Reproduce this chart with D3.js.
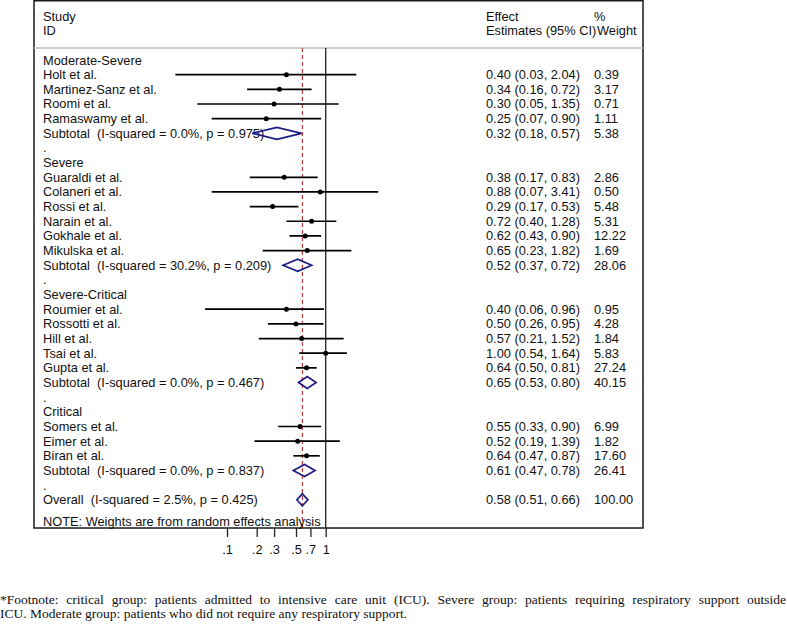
<!DOCTYPE html>
<html>
<head>
<meta charset="utf-8">
<script src="https://cdn.jsdelivr.net/npm/d3@7"></script>
<style>
  body { margin: 0; background: #fff; }
  svg { display: block; }
  .lbl { font-family: "Liberation Sans", Arial, sans-serif; font-size: 12.8px; fill: #111; white-space: pre; }
  .foot { font-family: "Liberation Serif", "Times New Roman", serif; font-size: 13.5px; fill: #111; }
</style>
</head>
<body>
<svg id="chart"></svg>
<script>
// Chart size (matches the browser window)
const width = 787;
const height = 626;

// Subgroups and their pooled results
const groupNames = ["Moderate-Severe", "Severe", "Severe-Critical", "Critical"];
const subI2 = ["0.0%", "30.2%", "0.0%", "0.0%"];
const subP = ["0.975", "0.209", "0.467", "0.837"];
const subEst = [0.32, 0.52, 0.65, 0.61];
const subLo = [0.18, 0.37, 0.53, 0.47];
const subHi = [0.57, 0.72, 0.80, 0.78];
const subWt = [5.38, 28.06, 40.15, 26.41];

// Individual studies
const studyNames = ["Holt et al.", "Martinez-Sanz et al.", "Roomi et al.", "Ramaswamy et al.",
  "Guaraldi et al.", "Colaneri et al.", "Rossi et al.", "Narain et al.", "Gokhale et al.", "Mikulska et al.",
  "Roumier et al.", "Rossotti et al.", "Hill et al.", "Tsai et al.", "Gupta et al.",
  "Somers et al.", "Eimer et al.", "Biran et al."];
const studyGroup = [0, 0, 0, 0, 1, 1, 1, 1, 1, 1, 2, 2, 2, 2, 2, 3, 3, 3];
const studyEst = [0.40, 0.34, 0.30, 0.25, 0.38, 0.88, 0.29, 0.72, 0.62, 0.65, 0.40, 0.50, 0.57, 1.00, 0.64, 0.55, 0.52, 0.64];
const studyLo = [0.03, 0.16, 0.05, 0.07, 0.17, 0.07, 0.17, 0.40, 0.43, 0.23, 0.06, 0.26, 0.21, 0.54, 0.50, 0.33, 0.19, 0.47];
const studyHi = [2.04, 0.72, 1.35, 0.90, 0.83, 3.41, 0.53, 1.28, 0.90, 1.82, 0.96, 0.95, 1.52, 1.64, 0.81, 0.90, 1.39, 0.87];
const studyWt = [0.39, 3.17, 0.71, 1.11, 2.86, 0.50, 5.48, 5.31, 12.22, 1.69, 0.95, 4.28, 1.84, 5.83, 27.24, 6.99, 1.82, 17.60];

// Overall pooled result
const overallI2 = "2.5%";
const overallP = "0.425";
const overallEst = 0.58;
const overallLo = 0.51;
const overallHi = 0.66;
const overallWt = 100.00;

// Axis ticks
const tickValues = [0.1, 0.2, 0.3, 0.5, 0.7, 1];
const tickLabels = [".1", ".2", ".3", ".5", ".7", "1"];

// Build the list of rows in display order
const rows = [];
groupNames.forEach((g, gi) => {
  rows.push({ type: "label", text: g });
  studyNames.forEach((s, si) => {
    if (studyGroup[si] !== gi) return;
    rows.push({ type: "study", text: s, est: studyEst[si], lo: studyLo[si], hi: studyHi[si], wt: studyWt[si] });
  });
  rows.push({ type: "pool", text: `Subtotal  (I-squared = ${subI2[gi]}, p = ${subP[gi]})`,
    est: subEst[gi], lo: subLo[gi], hi: subHi[gi], wt: subWt[gi] });
  rows.push({ type: "label", text: "." });
});
rows.push({ type: "pool", text: `Overall  (I-squared = ${overallI2}, p = ${overallP})`,
  est: overallEst, lo: overallLo, hi: overallHi, wt: overallWt });

// Layout
const boxLeft = 34, boxRight = 643, boxTop = 0.75, boxBottom = 528;
const headerLine = 48;
const textX = 43, effectX = 486, weightX = 594;

const x = d3.scaleLog().domain([0.1, 1]).range([227, 325.7]);
const y = d3.scaleLinear().domain([0, rows.length - 1]).range([60, 499.8]);
const rowStep = y(1) - y(0);

const svg = d3.select("#chart")
  .attr("width", width)
  .attr("height", height);

// Outer frame and header separator
svg.append("rect")
  .attr("x", boxLeft).attr("y", boxTop)
  .attr("width", boxRight - boxLeft).attr("height", boxBottom - boxTop)
  .attr("fill", "none").attr("stroke", "#1a1a1a").attr("stroke-width", 1.5);

svg.append("line")
  .attr("x1", boxLeft).attr("x2", boxRight)
  .attr("y1", headerLine).attr("y2", headerLine)
  .attr("stroke", "#bdbdbd").attr("stroke-width", 1.5);

// Column headers
const headers = [
  { x: textX, lines: ["Study", "ID"] },
  { x: effectX, lines: ["Effect", "Estimates (95% CI)"] },
  { x: weightX, lines: ["%", "Weight"] }
];
headers.forEach(h => {
  h.lines.forEach((t, i) => {
    svg.append("text").attr("class", "lbl")
      .attr("x", h.x + (i === 1 && h.x === weightX ? 3 : 0))
      .attr("y", 20.5 + i * 14.7)
      .text(t);
  });
});

// Null line at 1 and overall estimate line
svg.append("line")
  .attr("x1", x(1)).attr("x2", x(1))
  .attr("y1", headerLine).attr("y2", boxBottom)
  .attr("stroke", "#222").attr("stroke-width", 1.3);

svg.append("line")
  .attr("x1", x(overallEst)).attr("x2", x(overallEst))
  .attr("y1", headerLine).attr("y2", boxBottom)
  .attr("stroke", "#c0282d").attr("stroke-width", 1.1)
  .attr("stroke-dasharray", "4,3");

// Row labels and numbers
const rowG = svg.selectAll(".row")
  .data(rows)
  .enter().append("g")
  .attr("class", "row")
  .attr("transform", (d, i) => `translate(0,${y(i)})`);

rowG.append("text").attr("class", "lbl")
  .attr("x", textX).attr("y", 4.5)
  .text(d => d.text);

rowG.filter(d => d.type !== "label").append("text").attr("class", "lbl")
  .attr("x", effectX).attr("y", 4.5)
  .text(d => `${d.est.toFixed(2)} (${d.lo.toFixed(2)}, ${d.hi.toFixed(2)})`);

rowG.filter(d => d.type !== "label").append("text").attr("class", "lbl")
  .attr("x", weightX).attr("y", 4.5)
  .text(d => d.wt.toFixed(2));

// Study confidence intervals and point estimates
const studyRows = rowG.filter(d => d.type === "study");
studyRows.append("line")
  .attr("x1", d => x(d.lo)).attr("x2", d => x(d.hi))
  .attr("y1", 0).attr("y2", 0)
  .attr("stroke", "#000").attr("stroke-width", 1.7);
studyRows.append("circle")
  .attr("cx", d => x(d.est)).attr("cy", 0)
  .attr("r", 2.5).attr("fill", "#000");

// Pooled diamonds
rowG.filter(d => d.type === "pool").append("path")
  .attr("d", d => `M${x(d.lo)},0L${x(d.est)},-6L${x(d.hi)},0L${x(d.est)},6Z`)
  .attr("fill", "none").attr("stroke", "#1c1c84").attr("stroke-width", 1.7);

// Note at the bottom of the frame
svg.append("text").attr("class", "lbl")
  .attr("x", textX).attr("y", y(rows.length - 1) + rowStep * 1.48 + 4.5)
  .text("NOTE: Weights are from random effects analysis");

// Log axis
const axis = d3.axisBottom(x)
  .tickValues(tickValues)
  .tickFormat((d, i) => tickLabels[i])
  .tickSize(9)
  .tickPadding(8);

const axisG = svg.append("g")
  .attr("transform", `translate(0,${boxBottom})`)
  .call(axis);
axisG.select(".domain").remove();
axisG.selectAll("line").attr("stroke", "#222").attr("stroke-width", 1.3);
axisG.selectAll("text")
  .attr("class", "lbl")
  .style("font-size", "12.8px")
  .attr("fill", "#111");

// Footnote (first line justified to the full page width)
const footLines = [
  "*Footnote: critical group: patients admitted to intensive care unit (ICU). Severe group: patients requiring respiratory support outside",
  "ICU. Moderate group: patients who did not require any respiratory support."
];
const foot = svg.selectAll(".foot")
  .data(footLines)
  .enter().append("text")
  .attr("class", "foot")
  .attr("x", 0)
  .attr("y", (d, i) => 603.5 + i * 14)
  .text(d => d);

foot.filter((d, i) => i === 0).each(function(d) {
  const gaps = d.split(" ").length - 1;
  const extra = (width - 1 - this.getComputedTextLength()) / gaps;
  if (extra > 0) d3.select(this).style("word-spacing", `${extra}px`);
});
</script>
</body>
</html>
